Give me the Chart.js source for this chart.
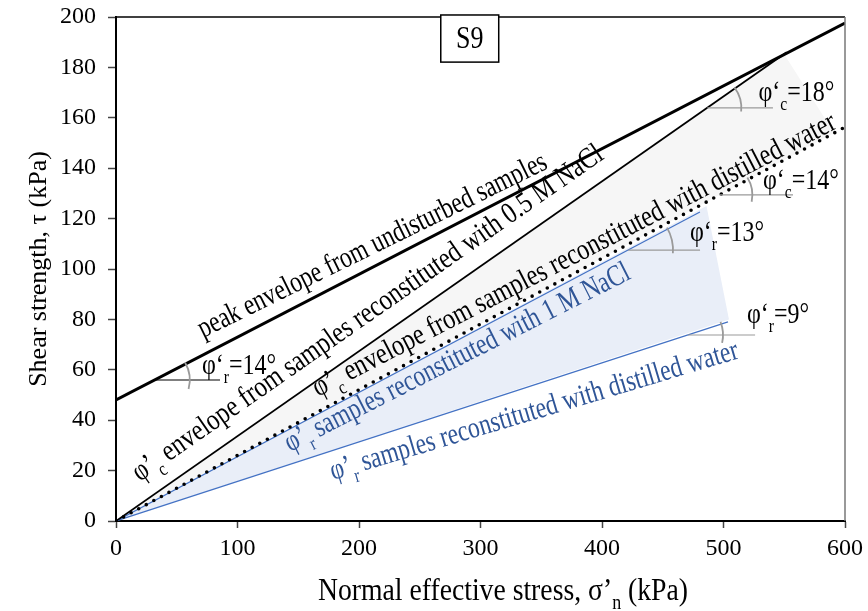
<!DOCTYPE html>
<html>
<head>
<title>S9 shear strength envelopes</title>
<script src="https://cdn.jsdelivr.net/npm/chart.js"></script>
<style>
  html, body { margin: 0; padding: 0; background: #fff; }
</style>
</head>
<body>
<canvas id="chart" width="868" height="611"></canvas>
<script>
// envelopes (x: normal effective stress kPa, y: shear strength kPa)
const peakX = [0, 600];
const peakY = [48, 197.6];
const critNaClX = [0, 552];
const critNaClY = [0, 186];
const critWaterX = [0, 600];
const critWaterY = [0, 156.3];
const resNaClX = [0, 480.6];
const resNaClY = [0, 122.6];
const resWaterX = [0, 503.7];
const resWaterY = [0, 79];

// shaded zones, closed outlines
const greyZoneX = [0, 550, 591, 0];
const greyZoneY = [0, 185.2, 154, 0];
const blueZoneX = [0, 486, 504.5, 0];
const blueZoneY = [0, 125, 80, 0];

const xTicks = [0, 100, 200, 300, 400, 500, 600];
const yTicks = [0, 20, 40, 60, 80, 100, 120, 140, 160, 180, 200];

const serif = '"Liberation Serif", "Times New Roman", serif';
const blueLine = '#4472C4';
const blueText = '#2F5597';
const arcGrey = '#9a9a9a';
const stretch = 1.25; // glyphs in the figure are a bit taller than wide

function pts(xs, ys) {
    return xs.map((x, i) => ({ x: x, y: ys[i] }));
}

function envelope(xs, ys, color, width) {
    return {
        data: pts(xs, ys),
        borderColor: color,
        borderWidth: width,
        pointRadius: 0,
        fill: false,
        tension: 0,
        order: 1
    };
}

function zone(xs, ys, color) {
    return {
        data: pts(xs, ys),
        borderColor: 'transparent',
        borderWidth: 0,
        backgroundColor: color,
        pointRadius: 0,
        fill: 'shape',
        tension: 0,
        order: 10
    };
}

// text labels laid along the envelopes (data coords of baseline start / end)
const lineLabels = [
    { runs: [['peak envelope from undisturbed samples']], from: [71.6, 72.6], to: [356.4, 140.1], color: '#000' },
    { runs: [['φ’'], ['c', 1], [' envelope from samples reconstituted with 0.5 M NaCl']], from: [19.5, 15.5], to: [402.5, 144.0], color: '#000' },
    { runs: [['φ’'], ['c', 1], [' envelope from samples reconstituted with distilled water']], from: [166.3, 49.2], to: [594.2, 156.0], color: '#000' },
    { runs: [['φ’'], ['r', 1], [' samples reconstituted with 1 M NaCl']], from: [143.2, 27.4], to: [424.7, 96.4], color: blueText },
    { runs: [['φ’'], ['r', 1], [' samples reconstituted with distilled water']], from: [178.6, 16.3], to: [513.6, 64.7], color: blueText }
];

// friction angle markers
const angleMarks = [
    { v: [31.9, 55.95], hx: 85.6, r: 35, a: [-30, 15], hColor: '#000', runs: [['φ‘'], ['r', 1], ['=14°']], at: [70.8, 58.3] },
    { v: [486.7, 163.9], hx: 540.7, r: 34, a: [-37, 6], hColor: arcGrey, runs: [['φ‘'], ['c', 1], ['=18°']], at: [528.8, 166.7] },
    { v: [496.6, 129.4], hx: 557.2, r: 33, a: [-32, 12], hColor: arcGrey, runs: [['φ‘'], ['c', 1], ['=14°']], at: [532.5, 131.7] },
    { v: [421.4, 107.5], hx: 480.7, r: 45, a: [-30, 4], hColor: arcGrey, runs: [['φ‘'], ['r', 1], ['=13°']], at: [472.4, 111.1] },
    { v: [470.8, 73.8], hx: 526, r: 35, a: [-22, 13], hColor: arcGrey, runs: [['φ‘'], ['r', 1], ['=9°']], at: [519.3, 78.6] }
];

function runsWidth(ctx, runs, size) {
    let w = 0;
    runs.forEach(r => {
        ctx.font = (r[1] ? size * 0.65 : size) + 'px ' + serif;
        w += ctx.measureText(r[0]).width;
    });
    return w;
}

function drawRuns(ctx, runs, size) {
    let x = 0;
    runs.forEach(r => {
        const s = r[1] ? size * 0.65 : size;
        ctx.font = s + 'px ' + serif;
        ctx.fillText(r[0], x, r[1] ? size * 0.3 : 0);
        x += ctx.measureText(r[0]).width;
    });
}

const notes = {
    id: 'notes',
    afterDraw(chart) {
        const ctx = chart.ctx;
        const xs = chart.scales.x, ys = chart.scales.y;
        const a = chart.chartArea;
        const P = (x, y) => [xs.getPixelForValue(x), ys.getPixelForValue(y)];
        ctx.save();

        // top and right frame
        ctx.lineWidth = 1.5;
        ctx.strokeStyle = '#000';
        ctx.beginPath();
        ctx.moveTo(a.left, a.top);
        ctx.lineTo(a.right, a.top);
        ctx.stroke();
        ctx.strokeStyle = '#777';
        ctx.beginPath();
        ctx.moveTo(a.right, a.top);
        ctx.lineTo(a.right, a.bottom);
        ctx.stroke();

        ctx.textBaseline = 'alphabetic';
        ctx.textAlign = 'left';

        // labels along lines, fitted to their measured span
        lineLabels.forEach(l => {
            const p0 = P(l.from[0], l.from[1]);
            const p1 = P(l.to[0], l.to[1]);
            const len = Math.hypot(p1[0] - p0[0], p1[1] - p0[1]);
            const w = runsWidth(ctx, l.runs, 24);
            ctx.save();
            ctx.translate(p0[0], p0[1]);
            ctx.rotate(Math.atan2(p1[1] - p0[1], p1[0] - p0[0]));
            ctx.scale(len / w, stretch);
            ctx.fillStyle = l.color;
            drawRuns(ctx, l.runs, 24);
            ctx.restore();
        });

        // angle markers
        angleMarks.forEach(m => {
            const v = P(m.v[0], m.v[1]);
            const h = P(m.hx, m.v[1]);
            ctx.lineWidth = 1.2;
            ctx.strokeStyle = m.hColor;
            ctx.beginPath();
            ctx.moveTo(v[0], v[1]);
            ctx.lineTo(h[0], v[1]);
            ctx.stroke();
            ctx.lineWidth = 1.8;
            ctx.strokeStyle = arcGrey;
            ctx.beginPath();
            ctx.arc(v[0], v[1], m.r, m.a[0] * Math.PI / 180, m.a[1] * Math.PI / 180);
            ctx.stroke();
            const t = P(m.at[0], m.at[1]);
            ctx.save();
            ctx.translate(t[0], t[1]);
            ctx.scale(1, stretch);
            ctx.fillStyle = '#000';
            drawRuns(ctx, m.runs, 24);
            ctx.restore();
        });

        // S9 box
        const b0 = P(267.3, 200.8);
        const b1 = P(315, 182.1);
        ctx.fillStyle = '#fff';
        ctx.fillRect(b0[0], b0[1], b1[0] - b0[0], b1[1] - b0[1]);
        ctx.lineWidth = 1.5;
        ctx.strokeStyle = '#000';
        ctx.strokeRect(b0[0], b0[1], b1[0] - b0[0], b1[1] - b0[1]);
        ctx.save();
        ctx.translate((b0[0] + b1[0]) / 2, (b0[1] + b1[1]) / 2 + 1);
        ctx.scale(1, stretch);
        ctx.fillStyle = '#000';
        ctx.font = '26px ' + serif;
        ctx.textAlign = 'center';
        ctx.textBaseline = 'middle';
        ctx.fillText('S9', 0, 0);
        ctx.restore();

        // x axis title with subscript
        const xt = [['Normal effective stress, σ’'], ['n', 1], [' (kPa)']];
        ctx.textAlign = 'left';
        ctx.textBaseline = 'alphabetic';
        ctx.fillStyle = '#000';
        const tw = runsWidth(ctx, xt, 25);
        ctx.save();
        ctx.translate(318, 600);
        ctx.scale(370 / tw, stretch);
        drawRuns(ctx, xt, 25);
        ctx.restore();

        ctx.restore();
    }
};

new Chart(document.getElementById('chart'), {
    type: 'line',
    data: {
        datasets: [
            envelope(peakX, peakY, '#000', 3),
            envelope(critNaClX, critNaClY, '#000', 1.8),
            Object.assign(envelope(critWaterX, critWaterY, '#000', 3.6), { borderDash: [0, 8.6], borderCapStyle: 'round' }),
            envelope(resNaClX, resNaClY, blueLine, 1.2),
            envelope(resWaterX, resWaterY, blueLine, 1.2),
            zone(greyZoneX, greyZoneY, '#f6f6f6'),
            zone(blueZoneX, blueZoneY, '#e9eef8')
        ]
    },
    options: {
        responsive: false,
        animation: false,
        layout: { padding: { top: 17, right: 23, left: 0, bottom: 0 } },
        plugins: {
            legend: { display: false },
            tooltip: { enabled: false }
        },
        scales: {
            x: {
                type: 'linear',
                min: 0,
                max: 600,
                afterBuildTicks: s => { s.ticks = xTicks.map(v => ({ value: v })); },
                afterFit: s => { s.height = 90; s.paddingLeft = 0; s.paddingRight = 0; },
                border: { color: '#000', width: 2 },
                grid: { drawOnChartArea: false, tickLength: 7, tickColor: '#444', tickWidth: 1.5 },
                ticks: { font: { family: serif, size: 24 }, color: '#000', padding: 6, maxRotation: 0, autoSkip: false }
            },
            y: {
                type: 'linear',
                min: 0,
                max: 200,
                afterBuildTicks: s => { s.ticks = yTicks.map(v => ({ value: v })); },
                afterFit: s => { s.width = 116; s.paddingTop = 0; s.paddingBottom = 0; },
                border: { color: '#000', width: 2 },
                grid: { drawOnChartArea: false, tickLength: 8, tickColor: '#444', tickWidth: 1.5 },
                ticks: { font: { family: serif, size: 24 }, color: '#000', padding: 12, autoSkip: false },
                title: {
                    display: true,
                    text: 'Shear strength, τ (kPa)',
                    font: { family: serif, size: 26 },
                    color: '#000',
                    padding: { top: 24, bottom: 0 }
                }
            }
        }
    },
    plugins: [notes]
});
</script>
</body>
</html>
